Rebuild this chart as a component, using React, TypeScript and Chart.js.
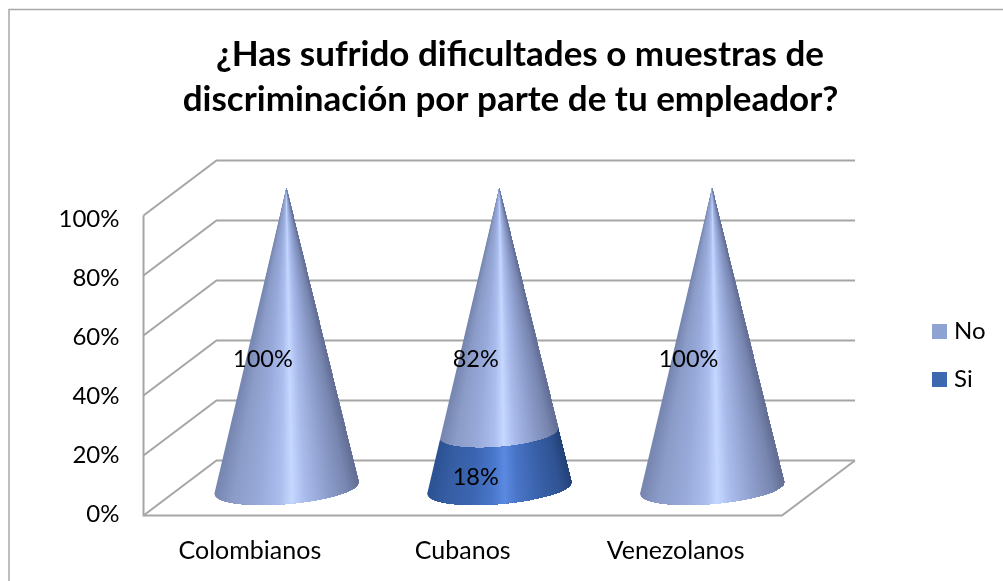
import React, { useEffect, useRef } from "react";
import { Chart, registerables } from "chart.js";

Chart.register(...registerables);

const categories = ["Colombianos", "Cubanos", "Venezolanos"];
const noValues = [100, 82, 100];
const siValues = [0, 18, 0];
const tickValues = [0, 20, 40, 60, 80, 100];
const titleLines = [
  "¿Has sufrido dificultades o muestras de",
  "discriminación por parte de tu empleador?",
];

const FONT = "Lato, 'Open Sans', sans-serif";
const GRID = "#a6a6a6";
const DEPTH_X = 73;
const DEPTH_Y = 55;
const TILT = (-4.8 * Math.PI) / 180;
const MINOR_RATIO = 0.22;

type Stop = [number, [number, number, number]];
const noShade: Stop[] = [
  [0, [118, 134, 176]],
  [0.12, [140, 156, 200]],
  [0.3, [152, 170, 218]],
  [0.45, [172, 190, 238]],
  [0.53, [198, 216, 255]],
  [0.62, [170, 188, 236]],
  [0.78, [142, 158, 204]],
  [0.92, [120, 134, 176]],
  [1, [98, 110, 148]],
];
const siShade: Stop[] = [
  [0, [44, 82, 146]],
  [0.12, [54, 94, 164]],
  [0.3, [60, 102, 178]],
  [0.45, [74, 120, 204]],
  [0.53, [92, 138, 226]],
  [0.62, [74, 118, 200]],
  [0.78, [58, 98, 170]],
  [0.92, [48, 84, 148]],
  [1, [36, 66, 120]],
];
const shades: Record<string, Stop[]> = { No: noShade, Si: siShade };
const labelLevels: Record<string, number> = { No: 50, Si: 10.5 };

function shadeAt(stops: Stop[], u: number) {
  for (let i = 1; i < stops.length; i++) {
    if (u <= stops[i][0]) {
      const [a, ca] = stops[i - 1];
      const [b, cb] = stops[i];
      const k = (u - a) / (b - a);
      const c = ca.map((v, j) => Math.round(v + (cb[j] - v) * k));
      return `rgb(${c[0]},${c[1]},${c[2]})`;
    }
  }
  const c = stops[stops.length - 1][1];
  return `rgb(${c[0]},${c[1]},${c[2]})`;
}

const conePlugin = {
  id: "cone3d",
  beforeDraw(chart: any) {
    const { ctx, width, height } = chart;
    ctx.save();
    ctx.fillStyle = "#ffffff";
    ctx.fillRect(0, 0, width, height);
    ctx.strokeStyle = "#a8a8a8";
    ctx.lineWidth = 1.5;
    ctx.beginPath();
    ctx.moveTo(9, height);
    ctx.lineTo(9, 9.5);
    ctx.lineTo(width, 9.5);
    ctx.stroke();
    ctx.restore();
  },
  afterLayout(chart: any) {
    chart.boxes.forEach((b: any) => {
      if (b.options?.text === titleLines[0]) {
        b.top = 37.5;
        b.bottom = b.top + b.height;
        b.left = 18.5;
        b.right = chart.width + 18.5;
      } else if (b.options?.text === titleLines[1]) {
        b.top = 82.5;
        b.bottom = b.top + b.height;
        b.left = 9;
        b.right = chart.width + 9;
      }
    });
    const legend = chart.legend;
    if (legend) {
      const w = legend.width;
      const h = legend.height;
      legend.left = 913;
      legend.right = legend.left + w;
      legend.top = 295.5;
      legend.bottom = legend.top + h;
    }
  },
  beforeDatasetsDraw(chart: any) {
    const { ctx, chartArea, scales } = chart;
    const y = scales.y;
    ctx.save();
    ctx.strokeStyle = GRID;
    ctx.lineWidth = 2;
    const { left, right } = chartArea;
    tickValues.forEach((v) => {
      const py = y.getPixelForValue(v);
      ctx.beginPath();
      ctx.moveTo(left, py);
      ctx.lineTo(left + DEPTH_X, py - DEPTH_Y);
      ctx.lineTo(right + DEPTH_X, py - DEPTH_Y);
      ctx.stroke();
    });
    const p0 = y.getPixelForValue(0);
    ctx.beginPath();
    ctx.moveTo(left, y.getPixelForValue(100));
    ctx.lineTo(left, p0);
    ctx.lineTo(right, p0);
    ctx.lineTo(right + DEPTH_X, p0 - DEPTH_Y);
    ctx.stroke();
    ctx.restore();

    const y0 = y.getPixelForValue(0);
    const yTop = y.getPixelForValue(100);
    const N = 144;
    [1, 0].forEach((dsIndex) => {
      const ds = chart.data.datasets[dsIndex];
      const meta = chart.getDatasetMeta(dsIndex);
      meta.data.forEach((el: any, i: number) => {
        if (!ds.data[i]) return;
        const cx = el.x + DEPTH_X / 2;
        const R = el.width / 2;
        const point = (py: number, u: number) => {
          const t = (y0 - py) / (y0 - yTop);
          const r = R * (1 - t);
          const cosP = 2 * u - 1;
          const sinP = Math.sqrt(Math.max(0, 1 - cosP * cosP));
          const a = r * cosP;
          const b = r * MINOR_RATIO * sinP;
          return [
            cx + a * Math.cos(TILT) - b * Math.sin(TILT),
            py - DEPTH_Y / 2 + a * Math.sin(TILT) + b * Math.cos(TILT),
          ];
        };
        // Paint the whole band from u to the right edge, so later strips only overwrite.
        const stops = shades[ds.label];
        const outline = (startU: number) => {
          ctx.beginPath();
          const first = point(el.y, startU);
          ctx.moveTo(first[0], first[1]);
          for (let s = Math.ceil(startU * N); s <= N; s++) {
            const p = point(el.y, s / N);
            ctx.lineTo(p[0], p[1]);
          }
          for (let s = N; s >= Math.ceil(startU * N); s--) {
            const p = point(el.base, s / N);
            ctx.lineTo(p[0], p[1]);
          }
          const last = point(el.base, startU);
          ctx.lineTo(last[0], last[1]);
          ctx.closePath();
        };
        ctx.save();
        for (let s = 0; s < N; s++) {
          const u0 = s / N;
          ctx.fillStyle = shadeAt(stops, u0 + 0.5 / N);
          outline(u0);
          ctx.fill();
        }
        ctx.restore();
      });
    });
  },
  beforeDatasetDraw() {
    return false;
  },
  afterDatasetsDraw(chart: any) {
    const { ctx, scales } = chart;
    ctx.save();
    ctx.fillStyle = "#000000";
    ctx.font = `23.5px ${FONT}`;
    ctx.textAlign = "center";
    ctx.textBaseline = "middle";
    chart.data.datasets.forEach((ds: any, dsIndex: number) => {
      chart.getDatasetMeta(dsIndex).data.forEach((el: any, i: number) => {
        const v = ds.data[i];
        if (!v) return;
        ctx.fillText(
          `${v}%`,
          el.x + 13,
          scales.y.getPixelForValue(labelLevels[ds.label]) - 6.5
        );
      });
    });
    ctx.restore();
  },
};

export default function App() {
  const ref = useRef<HTMLCanvasElement>(null);
  useEffect(() => {
    const canvas = ref.current!;
    const baseLabels = Chart.defaults.plugins.legend.labels.generateLabels;
    const chart = new Chart(canvas, {
      type: "bar",
      data: {
        labels: categories,
        datasets: [
          { label: "Si", data: siValues, backgroundColor: "#3d67ae", borderWidth: 0, yAxisID: "y" },
          { label: "No", data: noValues, backgroundColor: "#8ea3d2", borderWidth: 0, yAxisID: "y" },
        ],
      },
      plugins: [conePlugin],
      options: {
        responsive: false,
        animation: false,
        events: [],
        layout: { padding: { left: 0, right: 221, top: 145.5, bottom: 0 } },
        datasets: { bar: { barPercentage: 0.68, categoryPercentage: 1 } },
        plugins: {
          tooltip: { enabled: false },
          title: {
            display: true,
            text: titleLines[0],
            color: "#000000",
            padding: 0,
            font: { family: FONT, size: 35, weight: "bold", lineHeight: 1 },
          },
          subtitle: {
            display: true,
            text: titleLines[1],
            color: "#000000",
            padding: 0,
            font: { family: FONT, size: 35, weight: "bold", lineHeight: 1 },
          },
          legend: {
            position: "chartArea",
            align: "start",
            reverse: true,
            labels: {
              color: "#000000",
              font: { family: FONT, size: 24 },
              boxWidth: 5,
              boxHeight: 5,
              padding: 24,
              generateLabels: (c: any) =>
                baseLabels(c).map((item: any) => ({
                  ...item,
                  lineWidth: 10,
                  strokeStyle: item.fillStyle,
                  lineJoin: "miter",
                })),
            },
          },
        },
        scales: {
          x: {
            type: "category",
            stacked: true,
            grid: { display: false, drawTicks: false },
            border: { display: false },
            ticks: {
              color: "#000000",
              font: { family: FONT, size: 25 },
              padding: 20,
              maxRotation: 0,
              autoSkip: false,
            },
            afterFit: (s: any) => {
              s.height = 65.5;
            },
          },
          y: { type: "linear", stacked: true, display: false, min: 0, max: 100 },
          yTick: {
            type: "linear",
            position: "left",
            min: -0.34,
            max: 101.18,
            grid: { display: false, drawTicks: false },
            border: { display: false },
            afterBuildTicks: (s: any) => {
              s.ticks = tickValues.map((value) => ({ value }));
            },
            ticks: {
              color: "#000000",
              font: { family: FONT, size: 24 },
              padding: 24,
              callback: (v: any) => `${v}%`,
            },
            afterFit: (s: any) => {
              s.width = 143.5;
            },
          },
        },
      } as any,
    });
    return () => chart.destroy();
  }, []);
  return (
    <canvas
      ref={ref}
      width={1003}
      height={581}
      style={{ position: "fixed", left: 0, top: 0, display: "block", width: 1003, height: 581 }}
    />
  );
}
